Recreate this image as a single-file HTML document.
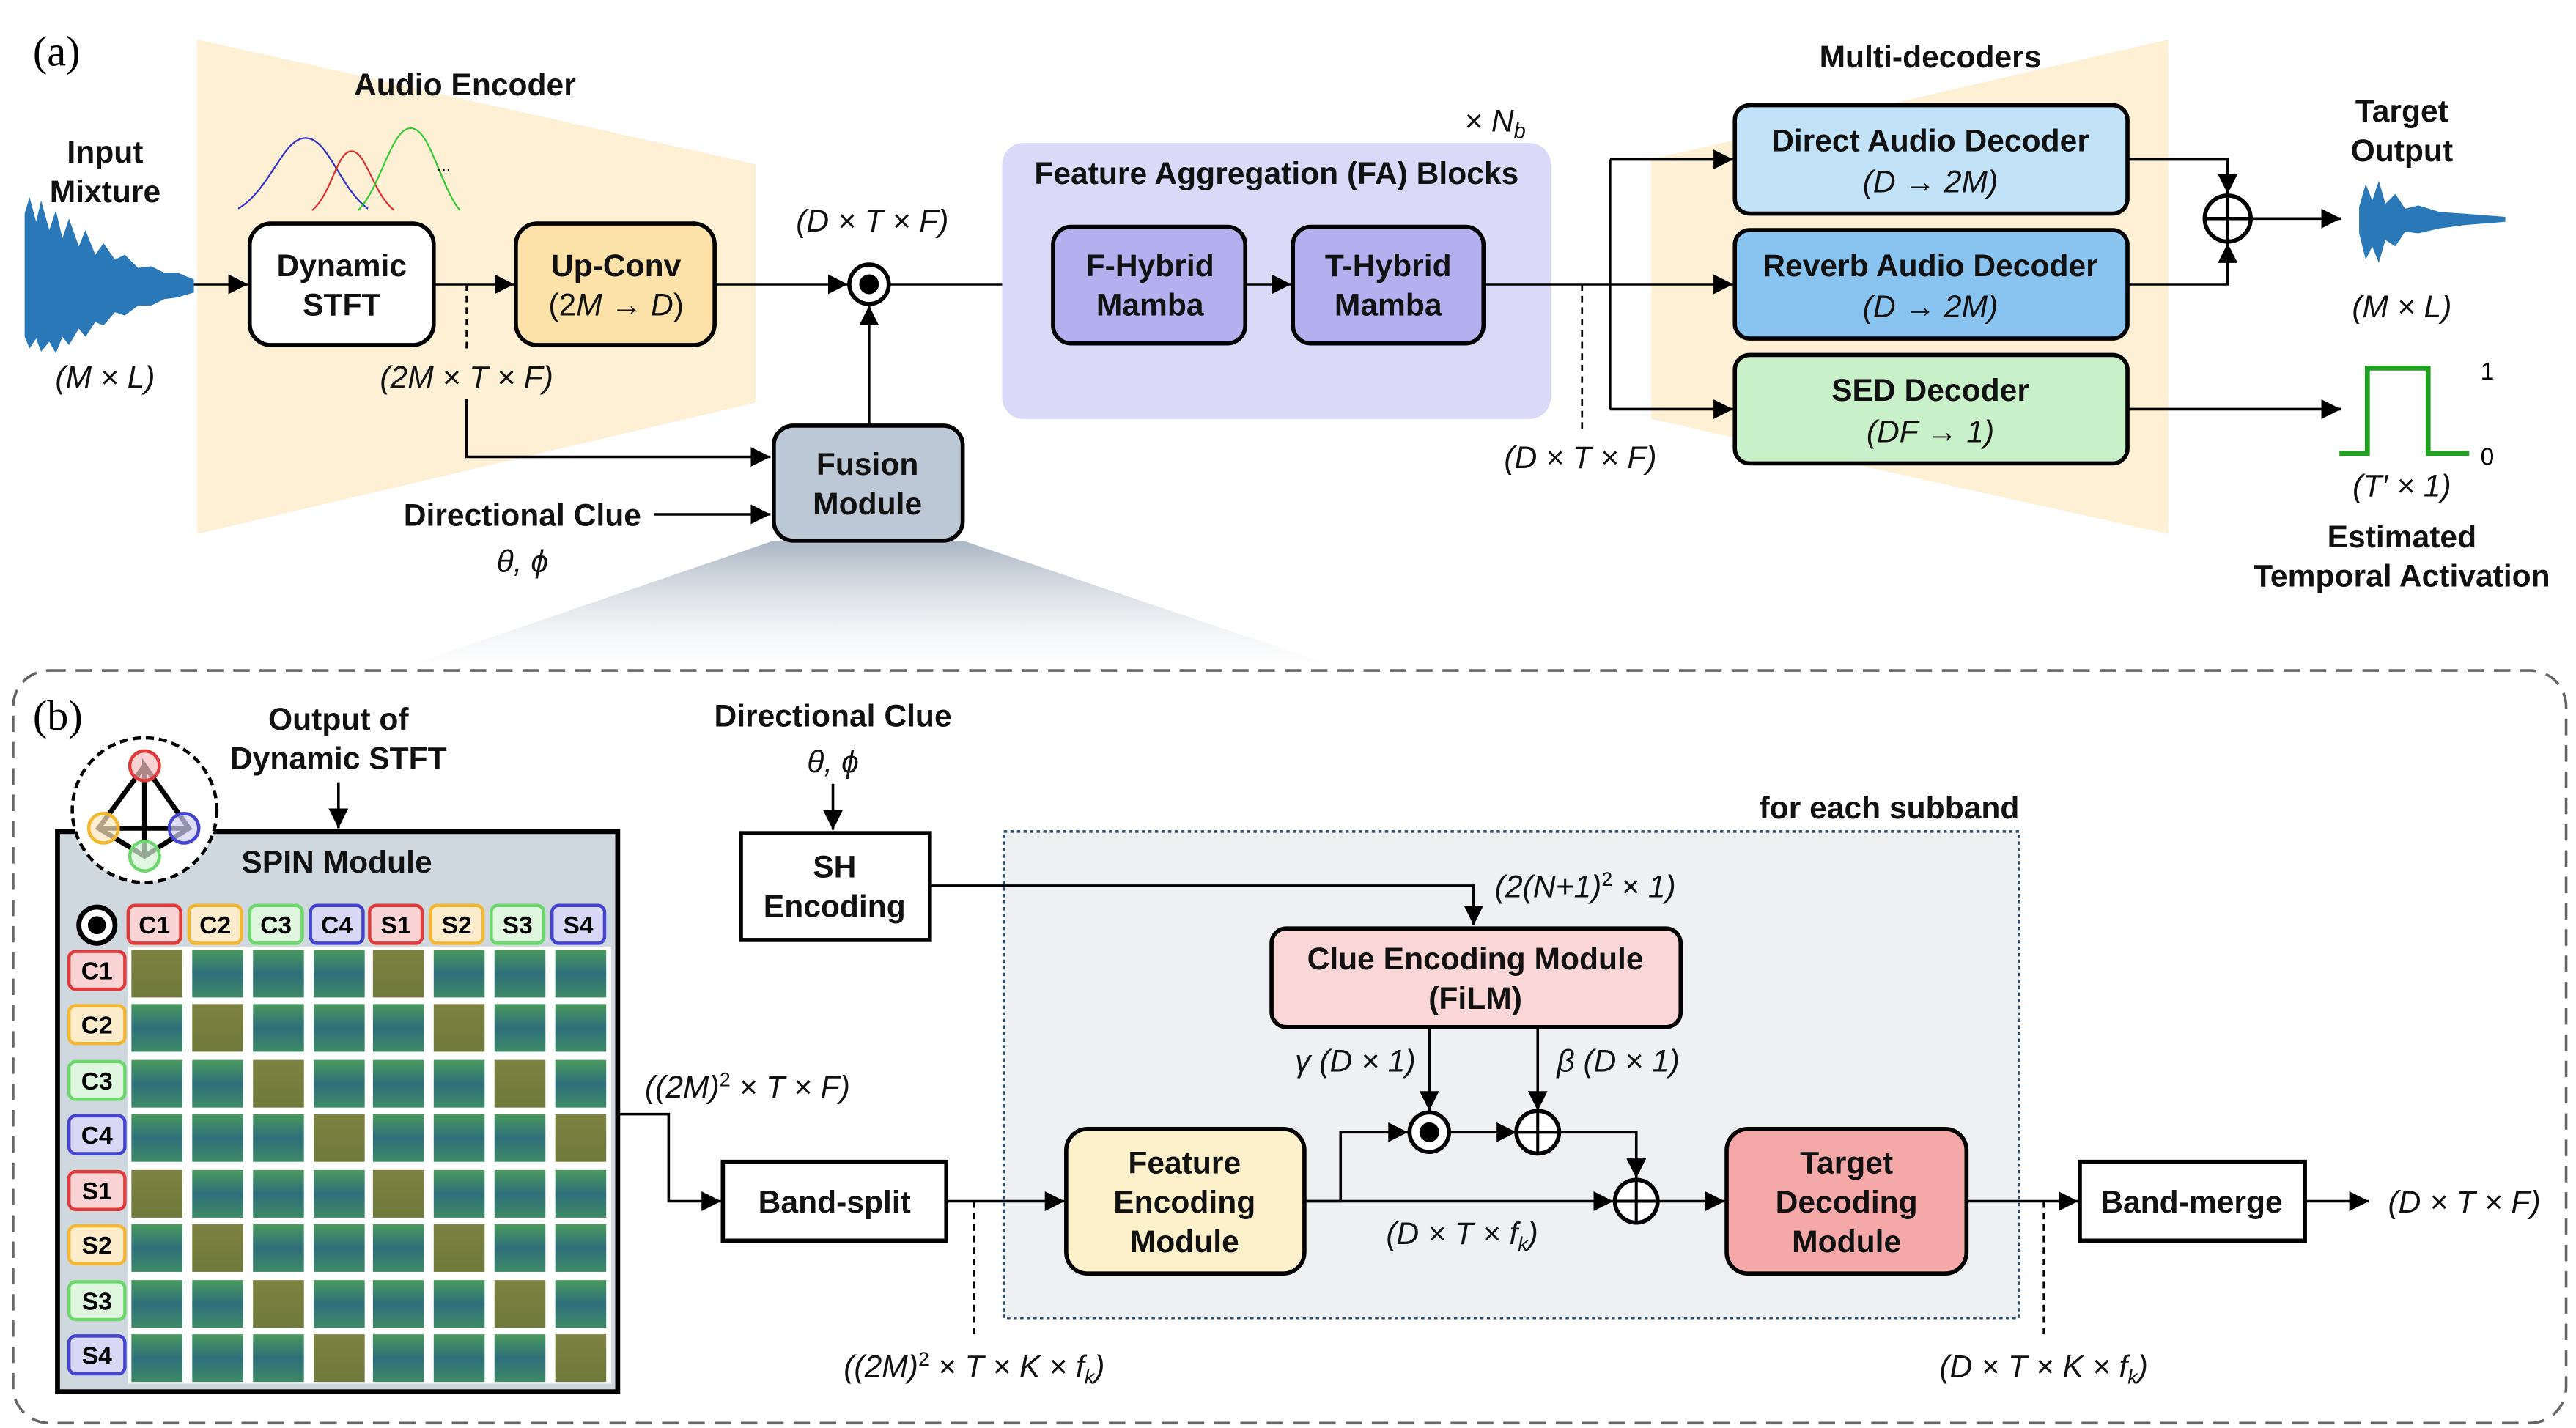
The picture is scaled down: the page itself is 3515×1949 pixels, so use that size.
<!DOCTYPE html>
<html><head><meta charset="utf-8"><style>
html,body{margin:0;padding:0;background:#fff;}
svg{display:block;}
text{font-family:"Liberation Sans",sans-serif;}
.b{font-weight:bold;font-size:19px;text-anchor:middle;fill:#111;}
.m{font-style:italic;font-size:19px;text-anchor:middle;fill:#111;}
.lbl{font-weight:bold;font-size:15px;text-anchor:middle;}
</style></head><body>
<svg width="3515" height="1949" viewBox="0 0 1568 869" preserveAspectRatio="none" xmlns="http://www.w3.org/2000/svg">
<defs>
<marker id="ar" markerUnits="userSpaceOnUse" markerWidth="14" markerHeight="12" refX="12" refY="6" orient="auto"><path d="M0,0 L12,6 L0,12 z" fill="#000"/></marker>
<linearGradient id="wedge" x1="0" y1="0" x2="0" y2="1"><stop offset="0" stop-color="#aab6c4"/><stop offset="1" stop-color="#ffffff" stop-opacity="0.3"/></linearGradient>
<linearGradient id="go" x1="0" y1="0" x2="0" y2="1"><stop offset="0" stop-color="#7d8240"/><stop offset="1" stop-color="#6f7a3c"/></linearGradient>
<linearGradient id="gt" x1="0" y1="0" x2="0" y2="1"><stop offset="0" stop-color="#4a9a5e"/><stop offset="0.5" stop-color="#2f6f7a"/><stop offset="1" stop-color="#3e8a68"/></linearGradient>
<rect id="o" width="31" height="29" fill="url(#go)"/>
<rect id="t" width="31" height="29" fill="url(#gt)"/>
</defs>

<!-- (a) -->
<text x="20" y="40" style="font-family:'Liberation Serif',serif;font-size:26px">(a)</text>
<polygon points="120,24 460,100 460,245 120,325" fill="#fdf0d5"/>
<polygon points="1005,97 1320,24 1320,325 1005,255" fill="#fdf0d5"/>
<text class="b" x="283" y="58">Audio Encoder</text>
<text class="b" x="1175" y="41">Multi-decoders</text>
<!-- gaussians -->
<path d="M145,127 C165,115 172,84 186,84 C200,84 207,115 224,127" fill="none" stroke="#3333cc" stroke-width="1"/>
<path d="M190,128 C202,118 205,92 214,92 C223,92 227,118 240,128" fill="none" stroke="#dd3333" stroke-width="1"/>
<path d="M218,128 C232,114 238,78 250,78 C262,78 268,114 280,128" fill="none" stroke="#33cc33" stroke-width="1"/>
<text x="266" y="104" style="font-size:10px">...</text>
<!-- input waveform -->
<polygon points="15,130 18,120 22,135 25,122 30,140 34,128 38,145 42,133 48,150 52,140 58,155 63,148 70,158 76,155 84,163 92,162 100,166 108,166 118,170 118,178 108,181 100,182 92,186 84,186 76,192 70,190 63,198 58,196 52,205 48,200 42,210 38,205 34,215 30,208 25,214 22,206 18,212 15,205" fill="#2a78b8"/>
<text class="b" x="64" y="99">Input</text>
<text class="b" x="64" y="123">Mixture</text>
<text class="m" x="64" y="236">(M × L)</text>
<!-- STFT / upconv -->
<rect x="152" y="136" width="112" height="74" rx="13" fill="#fff" stroke="#000" stroke-width="2.5"/>
<text class="b" x="208" y="168">Dynamic</text>
<text class="b" x="208" y="192">STFT</text>
<rect x="314" y="136" width="121" height="74" rx="13" fill="#fce2a8" stroke="#000" stroke-width="2.5"/>
<text class="b" x="375" y="168">Up-Conv</text>
<text class="m" x="375" y="192" style="font-style:normal">(2<tspan font-style="italic">M</tspan> → <tspan font-style="italic">D</tspan>)</text>
<line x1="118" y1="173" x2="151" y2="173" stroke="#000" stroke-width="1.6" marker-end="url(#ar)"/>
<line x1="264" y1="173" x2="313" y2="173" stroke="#000" stroke-width="1.6" marker-end="url(#ar)"/>
<line x1="284" y1="173" x2="284" y2="215" stroke="#000" stroke-width="1.2" stroke-dasharray="4,3"/>
<text class="m" x="284" y="236">(2M × T × F)</text>
<polyline points="284,243 284,278 469,278" fill="none" stroke="#000" stroke-width="1.6" marker-end="url(#ar)"/>
<line x1="435" y1="173" x2="516" y2="173" stroke="#000" stroke-width="1.6" marker-end="url(#ar)"/>
<circle cx="529" cy="173" r="12" fill="#fff" stroke="#000" stroke-width="2.5"/><circle cx="529" cy="173" r="6" fill="#000"/>
<text class="m" x="531" y="141">(D × T × F)</text>
<line x1="541" y1="173" x2="640" y2="173" stroke="#000" stroke-width="1.6" marker-end="url(#ar)"/>
<!-- wedge -->
<polygon points="471,329 586,329 820,408 240,408" fill="url(#wedge)"/>
<rect x="471" y="259" width="115" height="70" rx="12" fill="#bcc8d6" stroke="#000" stroke-width="2.5"/>
<text class="b" x="528" y="289">Fusion</text>
<text class="b" x="528" y="313">Module</text>
<line x1="529" y1="259" x2="529" y2="186" stroke="#000" stroke-width="1.6" marker-end="url(#ar)"/>
<text class="b" x="318" y="320">Directional Clue</text>
<line x1="398" y1="313" x2="469" y2="313" stroke="#000" stroke-width="1.6" marker-end="url(#ar)"/>
<text class="m" x="318" y="348">θ, ϕ</text>
<!-- FA -->
<rect x="610" y="87" width="334" height="168" rx="13" fill="#dadaf8"/>
<text class="b" x="777" y="112">Feature Aggregation (FA) Blocks</text>
<text class="m" x="910" y="80">× N<tspan font-size="13" dy="4">b</tspan></text>
<rect x="641" y="138" width="117" height="71" rx="11" fill="#b4b0ef" stroke="#000" stroke-width="2.5"/>
<text class="b" x="700" y="168">F-Hybrid</text><text class="b" x="700" y="192">Mamba</text>
<rect x="787" y="138" width="116" height="71" rx="11" fill="#b4b0ef" stroke="#000" stroke-width="2.5"/>
<text class="b" x="845" y="168">T-Hybrid</text><text class="b" x="845" y="192">Mamba</text>
<line x1="758" y1="173" x2="786" y2="173" stroke="#000" stroke-width="1.6" marker-end="url(#ar)"/>
<polyline points="903,173 980,173" fill="none" stroke="#000" stroke-width="1.6"/>
<line x1="980" y1="97" x2="980" y2="249" stroke="#000" stroke-width="1.6"/>
<line x1="980" y1="97" x2="1055" y2="97" stroke="#000" stroke-width="1.6" marker-end="url(#ar)"/>
<line x1="980" y1="173" x2="1055" y2="173" stroke="#000" stroke-width="1.6" marker-end="url(#ar)"/>
<line x1="980" y1="249" x2="1055" y2="249" stroke="#000" stroke-width="1.6" marker-end="url(#ar)"/>
<line x1="963" y1="173" x2="963" y2="262" stroke="#000" stroke-width="1.2" stroke-dasharray="4,3"/>
<text class="m" x="962" y="285">(D × T × F)</text>
<!-- decoders -->
<rect x="1056" y="64" width="239" height="66" rx="9" fill="#c2e2f8" stroke="#000" stroke-width="2.5"/>
<text class="b" x="1175" y="92">Direct Audio Decoder</text><text class="m" x="1175" y="117">(D → 2M)</text>
<rect x="1056" y="140" width="239" height="66" rx="9" fill="#88c4ef" stroke="#000" stroke-width="2.5"/>
<text class="b" x="1175" y="168">Reverb Audio Decoder</text><text class="m" x="1175" y="193">(D → 2M)</text>
<rect x="1056" y="216" width="239" height="66" rx="9" fill="#c9f1c9" stroke="#000" stroke-width="2.5"/>
<text class="b" x="1175" y="244">SED Decoder</text><text class="m" x="1175" y="269">(DF → 1)</text>
<polyline points="1295,97 1356,97 1356,118" fill="none" stroke="#000" stroke-width="1.6" marker-end="url(#ar)"/>
<polyline points="1295,173 1356,173 1356,148" fill="none" stroke="#000" stroke-width="1.6" marker-end="url(#ar)"/>
<circle cx="1356" cy="133" r="14" fill="#fff" stroke="#000" stroke-width="2.5"/>
<line x1="1342" y1="133" x2="1370" y2="133" stroke="#000" stroke-width="2"/><line x1="1356" y1="119" x2="1356" y2="147" stroke="#000" stroke-width="2"/>
<line x1="1370" y1="133" x2="1425" y2="133" stroke="#000" stroke-width="1.6" marker-end="url(#ar)"/>
<polygon points="1436,126 1440,112 1444,122 1448,110 1452,124 1458,118 1464,127 1472,125 1485,129 1500,130 1525,132 1525,135 1500,137 1485,139 1472,142 1464,141 1458,150 1452,146 1448,160 1444,150 1440,158 1436,142" fill="#2a78b8"/>
<text class="b" x="1462" y="74">Target</text><text class="b" x="1462" y="98">Output</text>
<text class="m" x="1462" y="193">(M × L)</text>
<line x1="1295" y1="249" x2="1425" y2="249" stroke="#000" stroke-width="1.6" marker-end="url(#ar)"/>
<polyline points="1424,276 1441,276 1441,224 1478,224 1478,276 1503,276" fill="none" stroke="#22a022" stroke-width="3"/>
<text x="1514" y="231" style="font-size:15px;text-anchor:middle">1</text>
<text x="1514" y="283" style="font-size:15px;text-anchor:middle">0</text>
<text class="m" x="1462" y="302">(T′ × 1)</text>
<text class="b" x="1462" y="333">Estimated</text><text class="b" x="1462" y="357">Temporal Activation</text>

<!-- (b) -->
<rect x="8" y="408" width="1554" height="458" rx="22" fill="none" stroke="#666" stroke-width="1.6" stroke-dasharray="10,6"/>
<text x="20" y="444" style="font-family:'Liberation Serif',serif;font-size:26px">(b)</text>
<text class="b" x="206" y="444">Output of</text><text class="b" x="206" y="468">Dynamic STFT</text>
<line x1="206" y1="476" x2="206" y2="504" stroke="#000" stroke-width="1.6" marker-end="url(#ar)"/>
<rect x="35" y="506" width="341" height="341" fill="#cfd8de" stroke="#000" stroke-width="3"/>
<text class="b" x="205" y="531">SPIN Module</text>
<circle cx="88" cy="493" r="44" fill="#fff" stroke="#000" stroke-width="2" stroke-dasharray="5,3"/>
<polyline points="88,466 60,504 88,521 115,504 88,466 88,521" fill="none" stroke="#000" stroke-width="3"/>
<line x1="60" y1="504" x2="115" y2="504" stroke="#000" stroke-width="3"/>
<circle cx="88" cy="466" r="9" fill="#f6c0c0" fill-opacity="0.7" stroke="#e03a3a" stroke-width="2"/>
<circle cx="63" cy="504" r="9" fill="#fde7bd" fill-opacity="0.7" stroke="#f5b731" stroke-width="2"/>
<circle cx="112" cy="504" r="9" fill="#d0d0f5" fill-opacity="0.7" stroke="#4444d0" stroke-width="2"/>
<circle cx="88" cy="521" r="9" fill="#d6f3d6" fill-opacity="0.7" stroke="#6cd86c" stroke-width="2"/>
<circle cx="59" cy="563" r="11" fill="#fff" stroke="#000" stroke-width="3"/><circle cx="59" cy="563" r="5.5" fill="#000"/>
<g class="lbl">
<rect x="78" y="551" width="32" height="23" rx="4" fill="#fad4d4" stroke="#e03a3a" stroke-width="2"/><text class="lbl" x="94" y="568">C1</text>
<rect x="115" y="551" width="32" height="23" rx="4" fill="#fdeccc" stroke="#f5b731" stroke-width="2"/><text class="lbl" x="131" y="568">C2</text>
<rect x="152" y="551" width="32" height="23" rx="4" fill="#dff6df" stroke="#6cd86c" stroke-width="2"/><text class="lbl" x="168" y="568">C3</text>
<rect x="189" y="551" width="32" height="23" rx="4" fill="#d8d8f6" stroke="#4444d0" stroke-width="2"/><text class="lbl" x="205" y="568">C4</text>
<rect x="225" y="551" width="32" height="23" rx="4" fill="#fad4d4" stroke="#e03a3a" stroke-width="2"/><text class="lbl" x="241" y="568">S1</text>
<rect x="262" y="551" width="32" height="23" rx="4" fill="#fdeccc" stroke="#f5b731" stroke-width="2"/><text class="lbl" x="278" y="568">S2</text>
<rect x="299" y="551" width="32" height="23" rx="4" fill="#dff6df" stroke="#6cd86c" stroke-width="2"/><text class="lbl" x="315" y="568">S3</text>
<rect x="336" y="551" width="32" height="23" rx="4" fill="#d8d8f6" stroke="#4444d0" stroke-width="2"/><text class="lbl" x="352" y="568">S4</text>
<rect x="42" y="579" width="34" height="23" rx="4" fill="#fad4d4" stroke="#e03a3a" stroke-width="2"/><text class="lbl" x="59" y="596">C1</text>
<rect x="42" y="612" width="34" height="23" rx="4" fill="#fdeccc" stroke="#f5b731" stroke-width="2"/><text class="lbl" x="59" y="629">C2</text>
<rect x="42" y="646" width="34" height="23" rx="4" fill="#dff6df" stroke="#6cd86c" stroke-width="2"/><text class="lbl" x="59" y="663">C3</text>
<rect x="42" y="679" width="34" height="23" rx="4" fill="#d8d8f6" stroke="#4444d0" stroke-width="2"/><text class="lbl" x="59" y="696">C4</text>
<rect x="42" y="713" width="34" height="23" rx="4" fill="#fad4d4" stroke="#e03a3a" stroke-width="2"/><text class="lbl" x="59" y="730">S1</text>
<rect x="42" y="746" width="34" height="23" rx="4" fill="#fdeccc" stroke="#f5b731" stroke-width="2"/><text class="lbl" x="59" y="763">S2</text>
<rect x="42" y="780" width="34" height="23" rx="4" fill="#dff6df" stroke="#6cd86c" stroke-width="2"/><text class="lbl" x="59" y="797">S3</text>
<rect x="42" y="813" width="34" height="23" rx="4" fill="#d8d8f6" stroke="#4444d0" stroke-width="2"/><text class="lbl" x="59" y="830">S4</text>
</g>
<rect x="78" y="576" width="294" height="266" fill="#fff"/>
<g>
<use href="#o" x="80" y="578"/><use href="#t" x="117" y="578"/><use href="#t" x="154" y="578"/><use href="#t" x="191" y="578"/><use href="#o" x="227" y="578"/><use href="#t" x="264" y="578"/><use href="#t" x="301" y="578"/><use href="#t" x="338" y="578"/>
<use href="#t" x="80" y="611"/><use href="#o" x="117" y="611"/><use href="#t" x="154" y="611"/><use href="#t" x="191" y="611"/><use href="#t" x="227" y="611"/><use href="#o" x="264" y="611"/><use href="#t" x="301" y="611"/><use href="#t" x="338" y="611"/>
<use href="#t" x="80" y="645"/><use href="#t" x="117" y="645"/><use href="#o" x="154" y="645"/><use href="#t" x="191" y="645"/><use href="#t" x="227" y="645"/><use href="#t" x="264" y="645"/><use href="#o" x="301" y="645"/><use href="#t" x="338" y="645"/>
<use href="#t" x="80" y="678"/><use href="#t" x="117" y="678"/><use href="#t" x="154" y="678"/><use href="#o" x="191" y="678"/><use href="#t" x="227" y="678"/><use href="#t" x="264" y="678"/><use href="#t" x="301" y="678"/><use href="#o" x="338" y="678"/>
<use href="#o" x="80" y="712"/><use href="#t" x="117" y="712"/><use href="#t" x="154" y="712"/><use href="#t" x="191" y="712"/><use href="#o" x="227" y="712"/><use href="#t" x="264" y="712"/><use href="#t" x="301" y="712"/><use href="#t" x="338" y="712"/>
<use href="#t" x="80" y="745"/><use href="#o" x="117" y="745"/><use href="#t" x="154" y="745"/><use href="#t" x="191" y="745"/><use href="#t" x="227" y="745"/><use href="#o" x="264" y="745"/><use href="#t" x="301" y="745"/><use href="#t" x="338" y="745"/>
<use href="#t" x="80" y="779"/><use href="#t" x="117" y="779"/><use href="#o" x="154" y="779"/><use href="#t" x="191" y="779"/><use href="#t" x="227" y="779"/><use href="#t" x="264" y="779"/><use href="#o" x="301" y="779"/><use href="#t" x="338" y="779"/>
<use href="#t" x="80" y="812"/><use href="#t" x="117" y="812"/><use href="#t" x="154" y="812"/><use href="#o" x="191" y="812"/><use href="#t" x="227" y="812"/><use href="#t" x="264" y="812"/><use href="#t" x="301" y="812"/><use href="#o" x="338" y="812"/>
</g>
<text class="m" x="455" y="668">((2M)<tspan font-size="12" dy="-7" font-style="normal">2</tspan><tspan dy="7"> × T × F)</tspan></text>
<polyline points="376,678 407,678 407,731 439,731" fill="none" stroke="#000" stroke-width="1.6" marker-end="url(#ar)"/>
<rect x="611" y="506" width="618" height="296" fill="#eff0f1" stroke="#2a4a6a" stroke-width="1.6" stroke-dasharray="2,2"/>
<text class="b" x="1150" y="498">for each subband</text>
<rect x="440" y="707" width="136" height="48" fill="#fff" stroke="#000" stroke-width="2.5"/>
<text class="b" x="508" y="738">Band-split</text>
<line x1="576" y1="731" x2="648" y2="731" stroke="#000" stroke-width="1.6" marker-end="url(#ar)"/>
<line x1="593" y1="731" x2="593" y2="812" stroke="#000" stroke-width="1.2" stroke-dasharray="4,3"/>
<text class="m" x="593" y="838">((2M)<tspan font-size="12" dy="-7" font-style="normal">2</tspan><tspan dy="7"> × T × K × f</tspan><tspan font-size="12" dy="4">k</tspan><tspan dy="-4">)</tspan></text>
<text class="b" x="507" y="442">Directional Clue</text>
<text class="m" x="507" y="470">θ, ϕ</text>
<line x1="507" y1="477" x2="507" y2="505" stroke="#000" stroke-width="1.6" marker-end="url(#ar)"/>
<rect x="451" y="507" width="115" height="65" fill="#fff" stroke="#000" stroke-width="2.5"/>
<text class="b" x="508" y="534">SH</text><text class="b" x="508" y="558">Encoding</text>
<polyline points="566,539 897,539 897,563" fill="none" stroke="#000" stroke-width="1.6" marker-end="url(#ar)"/>
<text class="m" x="965" y="546">(2(N+1)<tspan font-size="12" dy="-7" font-style="normal">2</tspan><tspan dy="7"> × 1)</tspan></text>
<rect x="774" y="565" width="249" height="60" rx="9" fill="#fad6d6" stroke="#000" stroke-width="2.5"/>
<text class="b" x="898" y="590">Clue Encoding Module</text><text class="b" x="898" y="614">(FiLM)</text>
<line x1="870" y1="625" x2="870" y2="676" stroke="#000" stroke-width="1.6" marker-end="url(#ar)"/>
<line x1="936" y1="625" x2="936" y2="676" stroke="#000" stroke-width="1.6" marker-end="url(#ar)"/>
<text class="m" x="825" y="652">γ (D × 1)</text>
<text class="m" x="985" y="652">β (D × 1)</text>
<rect x="649" y="687" width="145" height="88" rx="13" fill="#fdf1cc" stroke="#000" stroke-width="2.5"/>
<text class="b" x="721" y="714">Feature</text><text class="b" x="721" y="738">Encoding</text><text class="b" x="721" y="762">Module</text>
<polyline points="794,731 816,731 816,689 857,689" fill="none" stroke="#000" stroke-width="1.6" marker-end="url(#ar)"/>
<circle cx="870" cy="689" r="12" fill="#fff" stroke="#000" stroke-width="2.5"/><circle cx="870" cy="689" r="6" fill="#000"/>
<line x1="882" y1="689" x2="923" y2="689" stroke="#000" stroke-width="1.6" marker-end="url(#ar)"/>
<circle cx="936" cy="689" r="13" fill="#fff" stroke="#000" stroke-width="2.5"/>
<line x1="923" y1="689" x2="949" y2="689" stroke="#000" stroke-width="1.8"/><line x1="936" y1="676" x2="936" y2="702" stroke="#000" stroke-width="1.8"/>
<polyline points="949,689 996,689 996,717" fill="none" stroke="#000" stroke-width="1.6" marker-end="url(#ar)"/>
<line x1="794" y1="731" x2="982" y2="731" stroke="#000" stroke-width="1.6" marker-end="url(#ar)"/>
<circle cx="996" cy="731" r="13" fill="#fff" stroke="#000" stroke-width="2.5"/>
<line x1="983" y1="731" x2="1009" y2="731" stroke="#000" stroke-width="1.8"/><line x1="996" y1="718" x2="996" y2="744" stroke="#000" stroke-width="1.8"/>
<text class="m" x="890" y="757">(D × T × f<tspan font-size="12" dy="4">k</tspan><tspan dy="-4">)</tspan></text>
<line x1="1009" y1="731" x2="1050" y2="731" stroke="#000" stroke-width="1.6" marker-end="url(#ar)"/>
<rect x="1051" y="687" width="146" height="88" rx="13" fill="#f4a8a8" stroke="#000" stroke-width="2.5"/>
<text class="b" x="1124" y="714">Target</text><text class="b" x="1124" y="738">Decoding</text><text class="b" x="1124" y="762">Module</text>
<line x1="1197" y1="731" x2="1265" y2="731" stroke="#000" stroke-width="1.6" marker-end="url(#ar)"/>
<line x1="1244" y1="731" x2="1244" y2="812" stroke="#000" stroke-width="1.2" stroke-dasharray="4,3"/>
<text class="m" x="1244" y="838">(D × T × K × f<tspan font-size="12" dy="4">k</tspan><tspan dy="-4">)</tspan></text>
<rect x="1266" y="707" width="137" height="48" fill="#fff" stroke="#000" stroke-width="2.5"/>
<text class="b" x="1334" y="738">Band-merge</text>
<line x1="1403" y1="731" x2="1442" y2="731" stroke="#000" stroke-width="1.6" marker-end="url(#ar)"/>
<text class="m" x="1500" y="738">(D × T × F)</text>
</svg>
</body></html>
